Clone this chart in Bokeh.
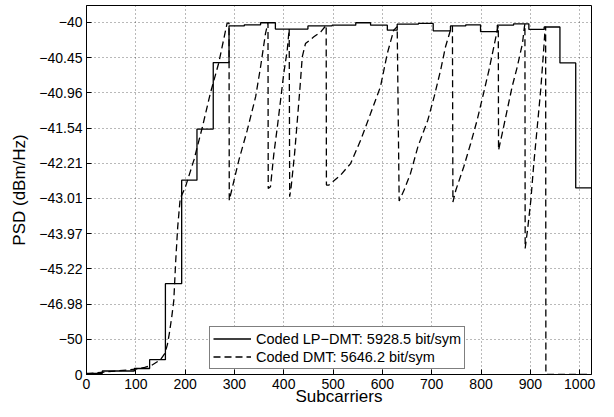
from bokeh.plotting import figure
from bokeh.models import FixedTicker, Legend, LegendItem, Range1d
from bokeh.embed import file_html
from bokeh.resources import INLINE

# PSD on a linear power scale (units of 1e-8 mW/Hz); tick labels show dBm/Hz
x_ticks = [0, 100, 200, 300, 400, 500, 600, 700, 800, 900, 1000]
y_ticks = [0, 1, 2, 3, 4, 5, 6, 7, 8, 9, 10]
y_tick_labels = ["0", "\u221250", "\u221246.98", "\u221245.22", "\u221243.97", "\u221243.01",
                 "\u221242.21", "\u221241.54", "\u221240.96", "\u221240.45", "\u221240"]

# Coded LP-DMT: piecewise-constant PSD (step start subcarrier, level)
lp_sub = [0, 32, 97, 128, 160, 193, 224, 257, 289, 320, 353, 383, 449, 498, 546, 576,
          610, 630, 673, 703, 738, 769, 799, 833, 866, 897, 928, 960, 992, 1023]
lp_psd = [0.03, 0.10, 0.17, 0.42, 2.58, 5.52, 6.97, 8.86, 9.90, 9.93, 9.99, 9.81, 9.90, 9.92, 9.99, 9.92,
          9.78, 9.95, 9.97, 9.76, 9.90, 9.93, 9.74, 9.92, 9.96, 9.80, 9.87, 8.85, 5.30, 5.30]

# Coded DMT: sawtooth PSD
dmt_sub = [0, 30, 60, 100, 118, 132, 150, 159, 164, 168, 173, 177, 181, 185, 190, 200, 218, 235, 251, 268, 285, 289,
           289.5, 309, 326, 343, 353, 363, 368,
           368.5, 373, 380, 387, 393.5, 400, 407, 411,
           412, 415, 422, 427, 433, 437.5, 444, 461, 475, 486,
           486.5, 491.5, 515, 535.5, 556, 576, 596, 610, 623, 630,
           634, 644, 657, 672, 692, 705, 718, 728, 738, 742,
           743, 749, 765, 779, 792, 805, 816, 826, 833, 835,
           835.5, 843, 853, 863, 873.5, 884, 888, 889,
           889.5, 895, 901, 907, 914, 921, 926, 930, 931,
           931.5, 1023]
dmt_psd = [0.02, 0.06, 0.10, 0.15, 0.20, 0.26, 0.42, 0.60, 0.85, 1.17, 1.65, 2.10, 3.25, 4.20, 5.00, 5.30, 6.10, 7.03, 7.98, 8.84, 9.97, 9.99,
           4.95, 6.09, 6.94, 7.89, 8.74, 9.69, 9.99,
           5.28, 5.33, 6.28, 7.03, 7.79, 8.55, 9.21, 9.82,
           5.05, 5.33, 6.28, 7.13, 8.17, 9.02, 9.40, 9.59, 9.73, 9.92,
           5.38, 5.38, 5.66, 5.99, 6.66, 7.41, 8.17, 9.12, 9.78, 9.88,
           4.93, 5.24, 5.71, 6.47, 7.22, 7.89, 8.64, 9.31, 9.78, 9.90,
           4.90, 5.24, 5.90, 6.56, 7.22, 7.98, 8.64, 9.31, 9.78, 9.90,
           6.37, 6.85, 7.51, 8.17, 8.74, 9.40, 9.88, 9.95,
           3.58, 4.19, 4.95, 5.99, 7.03, 8.08, 9.02, 9.83, 9.88,
           0.0, 0.0]

labels = ["Coded LP\u2212DMT: 5928.5 bit/sym", "Coded DMT: 5646.2 bit/sym"]
x_label = "Subcarriers"
y_label = "PSD (dBm/Hz)"

FONT = "Liberation Sans"

p = figure(width=606, height=409, x_range=Range1d(0, 1024), y_range=Range1d(0, 10.48),
           output_backend="svg", toolbar_location=None, title=None,
           min_border_left=86, min_border_right=15, min_border_top=5, min_border_bottom=35)
p.background_fill_color = "white"
p.border_fill_color = "white"
p.outline_line_color = "black"
p.outline_line_width = 1

for ax, ticks in ((p.xaxis[0], x_ticks), (p.yaxis[0], y_ticks)):
    ax.ticker = FixedTicker(ticks=ticks)
    ax.major_tick_in = 5
    ax.major_tick_out = 0
    ax.minor_tick_in = 0
    ax.minor_tick_out = 0
    ax.axis_line_color = "black"
    ax.major_tick_line_color = "black"
    ax.major_label_text_font = FONT
    ax.major_label_text_font_size = "14px"
    ax.major_label_text_color = "black"
    ax.major_label_standoff = 4
    ax.axis_label_text_font = FONT
    ax.axis_label_text_font_size = "17px"
    ax.axis_label_text_font_style = "normal"
    ax.axis_label_text_color = "black"

p.yaxis[0].major_label_overrides = {t: lab for t, lab in zip(y_ticks, y_tick_labels)}
p.xaxis[0].axis_label = x_label
p.yaxis[0].axis_label = y_label
p.xaxis[0].axis_label_standoff = -5
p.yaxis[0].axis_label_standoff = 7

p.xgrid.ticker = FixedTicker(ticks=x_ticks)
p.ygrid.ticker = FixedTicker(ticks=y_ticks)
for g in (p.xgrid[0], p.ygrid[0]):
    g.grid_line_color = "#000000"
    g.grid_line_alpha = 0.55
    g.grid_line_dash = "1 3"
    g.grid_line_width = 1

r1 = p.step(lp_sub, lp_psd, mode="after", line_color="black", line_width=1.3)
r2 = p.line(dmt_sub, dmt_psd, line_color="black", line_width=1.3, line_dash="7 4")

legend = Legend(items=[LegendItem(label=labels[0], renderers=[r1]),
                       LegendItem(label=labels[1], renderers=[r2])],
                location=(123, 5))
legend.label_text_font = FONT
legend.label_text_font_size = "14.5px"
legend.label_text_color = "black"
legend.border_line_color = "black"
legend.border_line_width = 1
legend.background_fill_color = "white"
legend.background_fill_alpha = 1
legend.padding = 3
legend.margin = 0
legend.spacing = 1
legend.glyph_width = 38
legend.glyph_height = 17
legend.label_height = 17
legend.label_standoff = 5
p.add_layout(legend, "center")

open("out.html", "w").write(file_html(p, INLINE))
